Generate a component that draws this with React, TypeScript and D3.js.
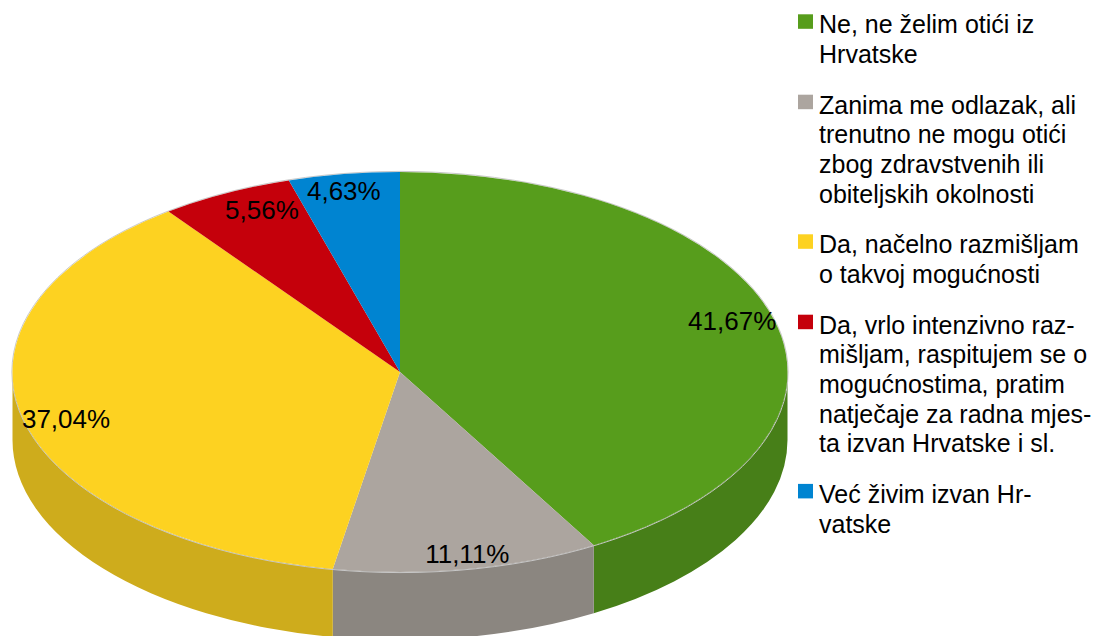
import React from "react";
import * as d3 from "d3";

const categories = [
  "Ne, ne želim otići iz Hrvatske",
  "Zanima me odlazak, ali trenutno ne mogu otići zbog zdravstvenih ili obiteljskih okolnosti",
  "Da, načelno razmišljam o takvoj mogućnosti",
  "Da, vrlo intenzivno razmišljam, raspitujem se o mogućnostima, pratim natječaje za radna mjesta izvan Hrvatske i sl.",
  "Već živim izvan Hrvatske",
];
const legendLines = [
  ["Ne, ne želim otići iz", "Hrvatske"],
  ["Zanima me odlazak, ali", "trenutno ne mogu otići", "zbog zdravstvenih ili", "obiteljskih okolnosti"],
  ["Da, načelno razmišljam", "o takvoj mogućnosti"],
  ["Da, vrlo intenzivno raz-", "mišljam, raspitujem se o", "mogućnostima, pratim", "natječaje za radna mjes-", "ta izvan Hrvatske i sl."],
  ["Već živim izvan Hr-", "vatske"],
];
const values = [41.67, 11.11, 37.04, 5.56, 4.63];
const topColors = ["#579d1c", "#aca59f", "#fdd221", "#c5000b", "#0084d1"];
const sideColors = ["#477f18", "#8b8680", "#ceac1c", "#a00009", "#006bab"];

const W = 1093;
const H = 636;
const cx = 400;
const cy = 372;
const rx = 387.5;
const ry = 200;
const depth = 68;
const FONT = "'Liberation Sans', Arial, sans-serif";

function pt(a: number, dy = 0): [number, number] {
  return [cx + rx * Math.sin(a), cy - ry * Math.cos(a) + dy];
}

function topPath(a0: number, a1: number) {
  const p0 = pt(a0);
  const p1 = pt(a1);
  const large = a1 - a0 > Math.PI ? 1 : 0;
  return `M${cx},${cy}L${p0[0]},${p0[1]}A${rx},${ry} 0 ${large} 1 ${p1[0]},${p1[1]}Z`;
}

function sidePath(a0: number, a1: number) {
  const s0 = Math.max(a0, Math.PI / 2);
  const s1 = Math.min(a1, (3 * Math.PI) / 2);
  if (s0 >= s1) return null;
  const p0 = pt(s0);
  const p1 = pt(s1);
  const q1 = pt(s1, depth);
  const q0 = pt(s0, depth);
  return `M${p0[0]},${p0[1]}A${rx},${ry} 0 0 1 ${p1[0]},${p1[1]}L${q1[0]},${q1[1]}A${rx},${ry} 0 0 0 ${q0[0]},${q0[1]}Z`;
}

export default function App() {
  const pie = d3.pie<number>().sort(null).startAngle(0).endAngle(2 * Math.PI);
  const arcs = pie(values);
  const fmt = (v: number) => v.toFixed(2).replace(".", ",") + "%";

  const lineH = 29.6;
  const entryGap = 50.8;
  let baseline = 33.3;
  const legendItems = legendLines.map((lines, i) => {
    const first = baseline;
    baseline += (lines.length - 1) * lineH + entryGap;
    return { lines, first, i };
  });

  return (
    <svg width={W} height={H} style={{ position: "absolute", left: 0, top: 0 }}>
      <rect width={W} height={H} fill="#ffffff" />
      {arcs.map((a, i) => {
        const d = sidePath(a.startAngle, a.endAngle);
        return d ? <path key={"s" + i} d={d} fill={sideColors[i]} /> : null;
      })}
      <ellipse cx={cx} cy={cy} rx={rx + 0.6} ry={ry + 0.6} fill="none" stroke="#c8c8c8" strokeWidth={1} />
      {arcs.map((a, i) => (
        <path key={"t" + i} d={topPath(a.startAngle, a.endAngle)} fill={topColors[i]} />
      ))}
      {arcs.map((a, i) => {
        const mid = (a.startAngle + a.endAngle) / 2;
        const [x, y] = pt(mid);
        const s = Math.sin(mid);
        const c = Math.cos(mid);
        const anchor = s > 0.3 ? "end" : s < -0.3 ? "start" : "middle";
        const by = c > 0.3 ? y + 26 : c < -0.3 ? y - 6 : y + 10;
        const ax = anchor === "end" ? x + 2 : anchor === "start" ? x - 1 : x;
        return (
          <text key={"l" + i} x={ax} y={by} textAnchor={anchor} fontFamily={FONT} fontSize={26} fill="#000">
            {fmt(values[i])}
          </text>
        );
      })}
      {legendItems.map(({ lines, first, i }) => (
        <g key={"g" + i}>
          <rect x={798} y={first - 19} width={15} height={14.5} fill={topColors[i]} />
          <text fontFamily={FONT} fontSize={25} fill="#000">
            <title>{categories[i]}</title>
            {lines.map((ln, j) => (
              <tspan key={j} x={819} y={first + j * lineH}>
                {ln}
              </tspan>
            ))}
          </text>
        </g>
      ))}
    </svg>
  );
}
